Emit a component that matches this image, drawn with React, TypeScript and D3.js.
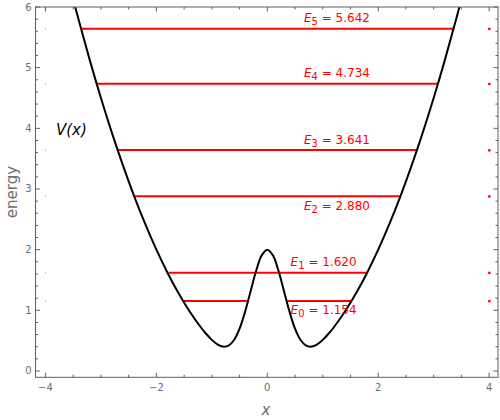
import React from 'react';
import * as d3 from 'd3';

// Potential curve
const curveX = [-3.6, -3.4, -3.2, -3.0, -2.8, -2.6, -2.4, -2.2, -2.0, -1.8, -1.6, -1.4, -1.2, -1.1, -1.0, -0.9, -0.8, -0.7, -0.6, -0.5, -0.4, -0.3, -0.2, -0.1, 0.0, 0.1, 0.2, 0.3, 0.4, 0.5, 0.6, 0.7, 0.8, 0.9, 1.0, 1.1, 1.2, 1.4, 1.6, 1.8, 2.0, 2.2, 2.4, 2.6, 2.8, 3.0, 3.2, 3.4, 3.6];
const curveV = [6.48, 5.78, 5.12, 4.5, 3.92, 3.38, 2.88, 2.42, 2.0, 1.62, 1.28, 0.98, 0.721, 0.61, 0.513, 0.44, 0.402, 0.418, 0.511, 0.698, 0.979, 1.32, 1.657, 1.907, 2.0, 1.907, 1.657, 1.32, 0.979, 0.698, 0.511, 0.418, 0.402, 0.44, 0.513, 0.61, 0.721, 0.98, 1.28, 1.62, 2.0, 2.42, 2.88, 3.38, 3.92, 4.5, 5.12, 5.78, 6.48];

// Energy levels
const levelIndex = ['0', '1', '2', '3', '4', '5'];
const levelE = [1.154, 1.62, 2.88, 3.641, 4.734, 5.642];
const levelText = ['1.154', '1.620', '2.880', '3.641', '4.734', '5.642'];
const levelSegments: number[][][] = [
  [[-1.51, -0.34], [0.36, 1.52]],
  [[-1.78, 1.8]],
  [[-2.4, 2.4]],
  [[-2.7, 2.7]],
  [[-3.07, 3.07]],
  [[-3.35, 3.35]],
];
const labelX = [0.42, 0.42, 0.66, 0.66, 0.66, 0.66];
const labelBelow = [true, false, true, false, false, false];

const xTicks = [-4, -2, 0, 2, 4];
const yTicks = [0, 1, 2, 3, 4, 5, 6];
const xMinor = [-4, -3.5, -3, -2.5, -2, -1.5, -1, -0.5, 0, 0.5, 1, 1.5, 2, 2.5, 3, 3.5, 4];
const yMinor = d3.range(0, 31).map((i) => i * 0.2);

const FONT = 'DejaVu Sans';
const FRAME = '#5e5e5e';
const TICKTXT = '#6e6e6e';

export default function App() {
  const W = 500, H = 420;
  const L = 35.5, R = 498, T = 7, B = 377.3;
  const x = d3.scaleLinear().domain([-4.18, 4.16]).range([L, R]);
  const y = d3.scaleLinear().domain([-0.104, 6.0]).range([B, T]);
  const pts = curveX.map((v, i) => [v, curveV[i]] as [number, number]);
  const line = d3.line<[number, number]>().x((d) => x(d[0])).y((d) => y(d[1])).curve(d3.curveCatmullRom.alpha(0.5));
  const fmt = (v: number) => (v < 0 ? '\u2212' + Math.abs(v) : String(v));

  return (
    <svg width={W} height={H} style={{ position: 'absolute', left: 0, top: 0 }}>
      <defs>
        <clipPath id="plotclip">
          <rect x={L} y={T} width={R - L} height={B - T} />
        </clipPath>
      </defs>
      <rect x={0} y={0} width={W} height={H} fill="#fff" />
      {levelE.map((e, i) =>
        levelSegments[i].map((s, j) => (
          <line key={`l${i}-${j}`} x1={x(s[0])} x2={x(s[1])} y1={y(e)} y2={y(e)} stroke="#ff0000" strokeWidth={2} />
        ))
      )}
      <path d={line(pts) || ''} fill="none" stroke="#000" strokeWidth={2} clipPath="url(#plotclip)" />
      {levelE.map((e, i) => (
        <g key={`p${i}`}>
          <rect x={x(-4) - 0.5} y={y(e) - 1} width={1} height={2} fill="#ff0000" opacity={0.35} />
          <rect x={x(4) - 1} y={y(e) - 1} width={2.4} height={2.4} fill="#ff0000" />
        </g>
      ))}
      {levelE.map((e, i) => (
        <text key={`t${i}`} x={x(labelX[i])} y={y(e) + (labelBelow[i] ? 13.5 : -6.5)} fill="#ff0000" fontFamily={FONT} fontSize={12}>
          <tspan fontStyle="italic">E</tspan>
          <tspan fontSize={10} dy={3}>{levelIndex[i]}</tspan>
          <tspan dy={-3}>{' = ' + levelText[i]}</tspan>
        </text>
      ))}
      <text x={56} y={135} fontFamily={FONT} fontSize={15} fontStyle="italic" fill="#000">V(x)</text>
      <rect x={L} y={T} width={R - L} height={B - T} fill="none" stroke={FRAME} strokeWidth={1} />
      {xMinor.map((v) => {
        const major = xTicks.includes(v);
        const len = major ? 4.5 : 2.5;
        return (
          <g key={`xm${v}`}>
            <line x1={x(v)} x2={x(v)} y1={B} y2={B - len} stroke={FRAME} />
            <line x1={x(v)} x2={x(v)} y1={T} y2={T + len} stroke={FRAME} />
          </g>
        );
      })}
      {yMinor.map((v, i) => {
        const major = i % 5 === 0;
        const len = major ? 4.5 : 2.5;
        return (
          <g key={`ym${i}`}>
            <line x1={L} x2={L + len} y1={y(v)} y2={y(v)} stroke={FRAME} />
            <line x1={R} x2={R - len} y1={y(v)} y2={y(v)} stroke={FRAME} />
          </g>
        );
      })}
      {xTicks.map((v) => (
        <text key={`xt${v}`} x={x(v)} y={391} textAnchor="middle" fontFamily={FONT} fontSize={10} fill={TICKTXT}>{fmt(v)}</text>
      ))}
      {yTicks.map((v) => (
        <text key={`yt${v}`} x={31.5} y={y(v) + 3.5} textAnchor="end" fontFamily={FONT} fontSize={10} fill={TICKTXT}>{fmt(v)}</text>
      ))}
      <text x={266} y={415} textAnchor="middle" fontFamily={FONT} fontSize={15} fontStyle="italic" fill={TICKTXT}>x</text>
      <text transform="translate(17,192) rotate(-90)" textAnchor="middle" fontFamily={FONT} fontSize={15} fill={TICKTXT}>energy</text>
    </svg>
  );
}
